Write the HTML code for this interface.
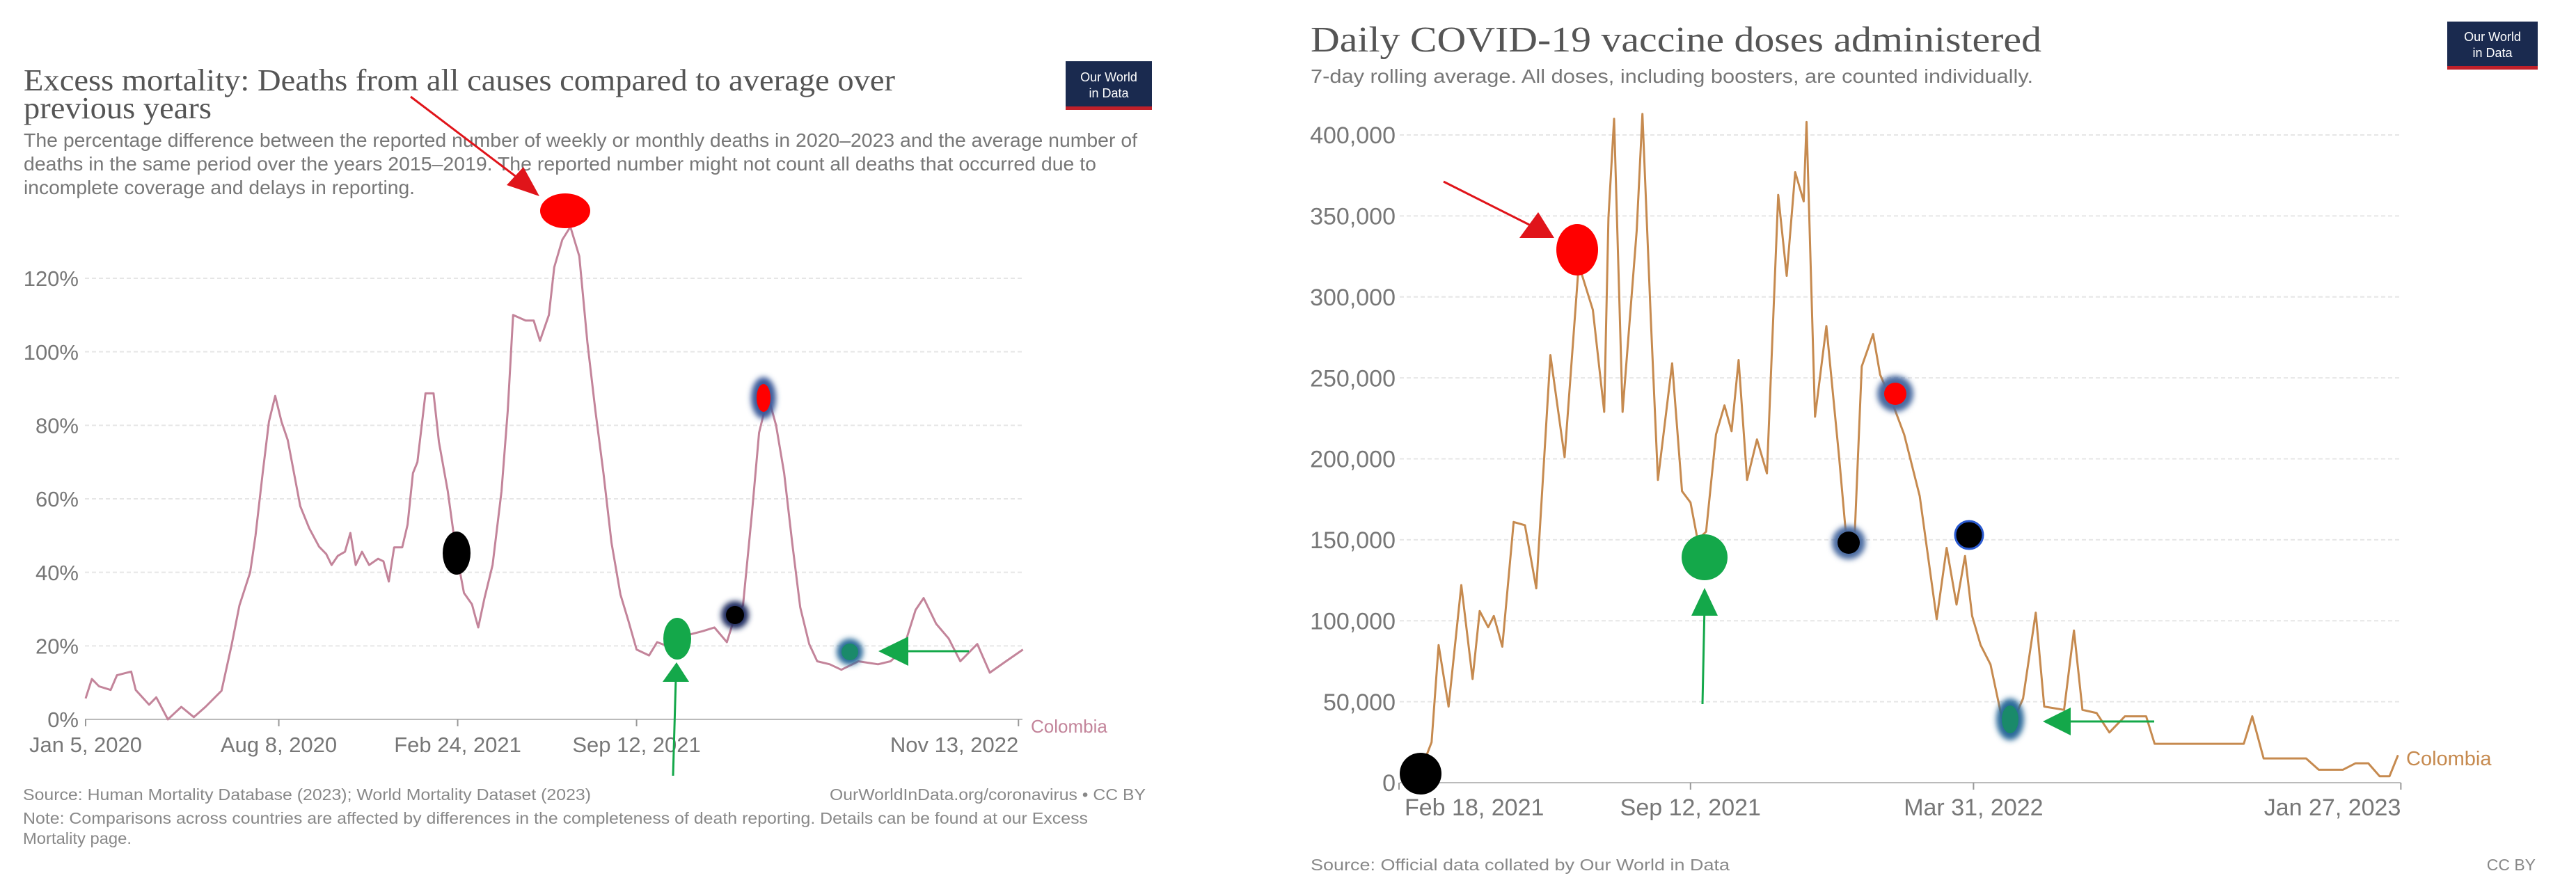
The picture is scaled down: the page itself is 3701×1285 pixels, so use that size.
<!DOCTYPE html>
<html><head><meta charset="utf-8"><style>
html,body{margin:0;padding:0;background:#fff;width:3701px;height:1285px;overflow:hidden}
svg{display:block}
text{font-family:"Liberation Sans",sans-serif}
.serif{font-family:"Liberation Serif",serif}
</style></head><body>
<svg id="chart" width="3701" height="1285" viewBox="0 0 3701 1285">
<defs>
<filter id="blur" x="-50%" y="-50%" width="200%" height="200%"><feGaussianBlur stdDeviation="4"/></filter>
</defs>
<g id="left">
<text class="serif" x="34" y="130" font-size="44" fill="#555" textLength="1252" lengthAdjust="spacingAndGlyphs">Excess mortality: Deaths from all causes compared to average over</text>
<text class="serif" x="34" y="170" font-size="44" fill="#555" textLength="270" lengthAdjust="spacingAndGlyphs">previous years</text>
<text x="34" y="211" font-size="28" fill="#777" textLength="1600" lengthAdjust="spacingAndGlyphs">The percentage difference between the reported number of weekly or monthly deaths in 2020–2023 and the average number of</text>
<text x="34" y="245" font-size="28" fill="#777" textLength="1541" lengthAdjust="spacingAndGlyphs">deaths in the same period over the years 2015–2019. The reported number might not count all deaths that occurred due to</text>
<text x="34" y="279" font-size="28" fill="#777" textLength="562" lengthAdjust="spacingAndGlyphs">incomplete coverage and delays in reporting.</text>
<g><rect x="1531" y="88" width="124" height="70" fill="#1a2a4f"/><rect x="1531" y="153" width="124" height="5" fill="#c0202a"/><text x="1593" y="117" font-size="18" fill="#fff" text-anchor="middle">Our World</text><text x="1593" y="140" font-size="18" fill="#fff" text-anchor="middle">in Data</text></g>
<g id="lgrid"></g><g id="lline"></g>
<text x="1481" y="1053" font-size="26" fill="#c3849a">Colombia</text>
<text x="33" y="1150" font-size="23" fill="#888" textLength="816" lengthAdjust="spacingAndGlyphs">Source: Human Mortality Database (2023); World Mortality Dataset (2023)</text>
<text x="1192" y="1150" font-size="23" fill="#888" textLength="454" lengthAdjust="spacingAndGlyphs">OurWorldInData.org/coronavirus • CC BY</text>
<text x="33" y="1184" font-size="23" fill="#888" textLength="1530" lengthAdjust="spacingAndGlyphs">Note: Comparisons across countries are affected by differences in the completeness of death reporting. Details can be found at our Excess</text>
<text x="33" y="1213" font-size="23" fill="#888" textLength="156" lengthAdjust="spacingAndGlyphs">Mortality page.</text>
</g>
<g id="right">
<text class="serif" x="1883" y="74" font-size="52" fill="#555" textLength="1050" lengthAdjust="spacingAndGlyphs">Daily COVID-19 vaccine doses administered</text>
<text x="1883" y="119" font-size="28" fill="#777" textLength="1038" lengthAdjust="spacingAndGlyphs">7-day rolling average. All doses, including boosters, are counted individually.</text>
<g><rect x="3516" y="31" width="130" height="69" fill="#1a2a4f"/><rect x="3516" y="95" width="130" height="5" fill="#c0202a"/><text x="3581" y="59" font-size="18" fill="#fff" text-anchor="middle">Our World</text><text x="3581" y="82" font-size="18" fill="#fff" text-anchor="middle">in Data</text></g>
<g id="rgrid"></g><g id="rline"></g>
<text x="3457" y="1100" font-size="29" fill="#c68a4f">Colombia</text>
<text x="1883" y="1251" font-size="23" fill="#888" textLength="602" lengthAdjust="spacingAndGlyphs">Source: Official data collated by Our World in Data</text>
<text x="3643" y="1251" font-size="23" fill="#888" text-anchor="end">CC BY</text>
</g>
<g id="annot">
<line x1="590" y1="139" x2="760" y2="268" stroke="#e0141a" stroke-width="3"/>
<polygon points="775,282 728,266 752,240" fill="#e0141a"/>
<ellipse cx="812" cy="303" rx="36" ry="25" fill="#f00"/>
<ellipse cx="656" cy="795" rx="20" ry="31" fill="#000"/>
<ellipse cx="973" cy="918" rx="20" ry="30" fill="#14a84a"/>
<line x1="967" y1="1115" x2="971" y2="975" stroke="#14a84a" stroke-width="3"/>
<polygon points="952,980 990,980 972,952" fill="#14a84a"/>
<circle cx="1056" cy="884" r="20" fill="#1a2a5f" filter="url(#blur)"/>
<circle cx="1056" cy="884" r="13" fill="#000"/>
<ellipse cx="1097" cy="572" rx="18" ry="30" fill="#3a5a9a" filter="url(#blur)"/>
<ellipse cx="1097" cy="572" rx="10" ry="20" fill="#f00"/>
<circle cx="1221" cy="937" r="19" fill="#2a6a9a" filter="url(#blur)"/>
<circle cx="1221" cy="937" r="12" fill="#1a8a6a"/>
<line x1="1392" y1="936" x2="1285" y2="936" stroke="#14a84a" stroke-width="3"/>
<polygon points="1262,936 1305,915 1305,957" fill="#14a84a"/>
<circle cx="2041" cy="1112" r="30" fill="#000"/>
<line x1="2074" y1="261" x2="2215" y2="332" stroke="#e0141a" stroke-width="3"/>
<polygon points="2183,342 2233,342 2210,305" fill="#e0141a"/>
<ellipse cx="2266" cy="359" rx="30" ry="37" fill="#f00"/>
<circle cx="2449" cy="801" r="33" fill="#14a84a"/>
<line x1="2446" y1="1012" x2="2449" y2="870" stroke="#14a84a" stroke-width="3"/>
<polygon points="2430,885 2468,885 2449,845" fill="#14a84a"/>
<circle cx="2656" cy="780" r="24" fill="#4a6aa0" filter="url(#blur)"/>
<circle cx="2656" cy="780" r="16" fill="#000"/>
<circle cx="2723" cy="566" r="26" fill="#4a6aa0" filter="url(#blur)"/>
<circle cx="2723" cy="566" r="16" fill="#f00"/>
<circle cx="2829" cy="769" r="20" fill="#000" stroke="#2a5ad0" stroke-width="3"/>
<ellipse cx="2888" cy="1034" rx="20" ry="30" fill="#2a6a9a" filter="url(#blur)"/>
<ellipse cx="2888" cy="1034" rx="12" ry="20" fill="#1a8a6a"/>
<line x1="3095" y1="1037" x2="2960" y2="1037" stroke="#14a84a" stroke-width="3"/>
<polygon points="2935,1037 2975,1017 2975,1057" fill="#14a84a"/>
</g>
</svg>
<script>
// Left chart data: days since Jan 5 2020, excess mortality %
const leftDays=[0,7,15,28,35,51,56,71,79,92,107,121,134,152,163,172,184,190,198,205,212,219,226,233,240,250,261,269,275,282,290,296,302,309,317,327,333,339,345,354,360,366,371,380,389,395,405,414,423,432,439,446,455,465,472,478,492,501,508,518,524,533,542,552,561,570,579,588,598,607,616,630,639,653,671,690,703,717,726,735,745,753,763,772,781,790,799,809,818,832,845,864,886,900,914,928,937,951,965,978,997,1011,1029,1048];
const leftValues=[5.7,11,9,8,12,13,8,4,6,0,3.4,0.6,3.4,7.8,20,31,40,50,67,81,88,81,76,67,58,52,47,45,42,44.5,45.6,50.7,42,45.6,42,43.7,43,37.5,46.8,46.8,53,67,70,88.7,88.7,75.5,62,46,34.4,31.3,25,33,42,62,84,110,108.5,108.5,103,110,123,130.5,134,126,102.6,84,67,48,34,26.7,19,17.4,21,19.7,22.8,24,25,21,28,31,56,78,88,80,67,48,30.5,20.5,15.8,15,13.5,15.8,15,15.8,19,29.8,33,26,22,15.8,20.5,12.7,15.8,19,12.7];
const leftTicks=[0,20,40,60,80,100,120];
const leftTickLabels=["0%","20%","40%","60%","80%","100%","120%"];
const leftDateTicks=[0,216,416,616,1043];
const leftDateLabels=["Jan 5, 2020","Aug 8, 2020","Feb 24, 2021","Sep 12, 2021","Nov 13, 2022"];
// Right chart data: days since Feb 18 2021, doses (thousands)
const rightDays=[14,23,28,35,44,52,57,63,67,73,81,89,97,107,117,127,137,145,148,152,158,168,172,178,183,193,200,206,211,217,224,230,235,240,246,253,260,268,274,280,286,288,294,302,311,316,322,327,335,340,348,357,368,380,387,394,400,405,411,418,426,435,441,450,456,470,477,483,493,502,513,528,534,597,603,611,624,641,650,667,676,685,693,700,706];
const rightValues=[4.5,25,85,47,122,64,106,96,103,84,161,159,120,264,201,320,292,229,349,410,229,341,413,285,187,259,180,173,150,155,215,233,217,261,187,212,191,363,313,377,359,408,226,282,201,152,152,257,277,252,236,215,177,101,145,110,140,103,85,73,40,40,52,105,47,45,94,45,43,31,41,41,24,24,41,15,15,15,8,8,12,12,4,4,17];
const rightTicks=[0,50,100,150,200,250,300,350,400];
const rightTickLabels=["0","50,000","100,000","150,000","200,000","250,000","300,000","350,000","400,000"];
const rightDateTicks=[0,206,406,708];
const rightDateLabels=["Feb 18, 2021","Sep 12, 2021","Mar 31, 2022","Jan 27, 2023"];

const NS="http://www.w3.org/2000/svg";
function mk(tag,attrs,parent){const e=document.createElementNS(NS,tag);for(const k in attrs)e.setAttribute(k,attrs[k]);parent.appendChild(e);return e;}
const lx=d=>123+d*1.285, ly=v=>1034-v*(1034-400)/120;
const rx=d=>2010+d*2.033, ry=v=>1125-v*(1125-194)/400;
function drawChart(gridId,lineId,days,vals,ticks,tickLabels,dTicks,dLabels,xf,yf,x0,x1,labelRight,color,prefix,anchors,yfs,xfs){
  const g=document.getElementById(gridId);
  ticks.forEach((t,i)=>{
    const ln=mk('line',{x1:x0,x2:x1,y1:yf(t),y2:yf(t),stroke:i===0?'#bbb':'#e6e6e6','stroke-width':2,'stroke-dasharray':i===0?'':'6,4'},g);
    
    
    const tx=mk('text',{x:labelRight,y:yf(t)+yfs*0.36,'font-size':yfs,fill:'#777','text-anchor':'end'},g);
    tx.textContent=tickLabels[i];
    
    
  });
  dTicks.forEach((d,i)=>{
    const tk=mk('line',{x1:xf(d),x2:xf(d),y1:yf(0),y2:yf(0)+10,stroke:'#999','stroke-width':2},g);
    
    
    const a=anchors[i];
    const tx=mk('text',{x:xf(d)+(a==='start'?8:0),y:yf(0)+47,'font-size':xfs,fill:'#777','text-anchor':a},g);
    tx.textContent=dLabels[i];
    
    
  });
  const l=document.getElementById(lineId);
  const pts=days.map((d,i)=>xf(d).toFixed(1)+','+yf(vals[i]).toFixed(1)).join(' ');
  const pl=mk('polyline',{points:pts,fill:'none',stroke:color,'stroke-width':3,'stroke-linejoin':'round'},l);
  
  
}
drawChart('lgrid','lline',leftDays,leftValues,leftTicks,leftTickLabels,leftDateTicks,leftDateLabels,lx,ly,122,1469,113,'#c3849a','left',['middle','middle','middle','middle','end'],31,31);
drawChart('rgrid','rline',rightDays,rightValues,rightTicks,rightTickLabels,rightDateTicks,rightDateLabels,rx,ry,2011,3449,2005,'#c68a4f','right',['start','middle','middle','end'],34,34);
</script>
</body></html>
